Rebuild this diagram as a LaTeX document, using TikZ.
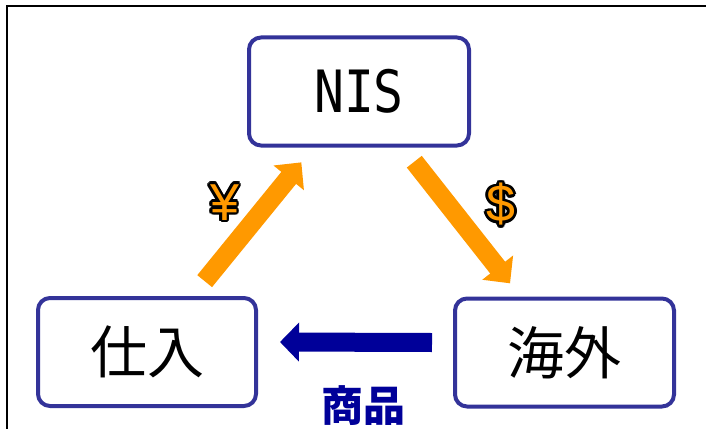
\documentclass[tikz,border=0pt]{standalone}
\usepackage{fontspec}
\usepackage[copies]{contour}
\usetikzlibrary{arrows.meta,calc}
\newfontfamily\cjk{Noto Sans CJK JP}
\newfontfamily\monofnt{DejaVu Sans Mono}
\newfontfamily\symfnt{Liberation Sans}
\definecolor{boxblue}{HTML}{333399}
\definecolor{moneyorange}{HTML}{FF9900}
\definecolor{goodsblue}{HTML}{000099}
\contourlength{2.6pt}

\begin{document}
\begin{tikzpicture}[x=1pt, y=-1pt,
    party/.style={draw=boxblue, line width=4pt, rectangle, rounded corners=12pt, minimum width=218pt, minimum height=108pt, align=center},
    money/.style={moneyorange, line width=19pt, -{Triangle[width=38pt,length=20pt]}},
    goods/.style={goodsblue, line width=19pt, -{Triangle[width=38pt,length=19pt]}},
    sign/.style={font=\symfnt\fontsize{52}{56}\selectfont}
]
    \useasboundingbox (0,0) rectangle (706,428);
    % Rama exterioara
    \draw[line width=2pt] (7,6) rectangle (730,450);

    % Parti
    \node[party, minimum width=220pt, font=\monofnt\fontsize{54}{60}\selectfont] (nis) at (359,91.5) {\scalebox{0.92}[1.08]{NIS}};
    \node[party, font=\cjk\fontsize{57}{60}\selectfont] (buy) at (147,352) {仕入};
    \node[party, minimum width=219pt, font=\cjk\fontsize{57}{60}\selectfont] (abroad) at (564.5,352.5) {海外};

    % Fluxuri de bani
    \draw[money] ($(buy)!.272!(nis)$) -- ($(buy)!.728!(nis)$);
    \draw[money] ($(nis)!.269!(abroad)$) -- ($(nis)!.735!(abroad)$);

    % Flux de marfa
    \draw[goods] ([xshift=-21pt,yshift=10pt]abroad.west) -- ([xshift=22pt,yshift=10pt]buy.east);

    % Etichete
    \node[sign] (yen) at (224.5,203.5) {\contour{black}{\color{moneyorange}¥}};
    \node[sign] (dollar) at (501,205.5) {\contour{black}{\color{moneyorange}\$}};
    \node[goodsblue, font=\cjk\bfseries\fontsize{42}{46}\selectfont] (goodslbl) at (363,406) {商品};
\end{tikzpicture}
\end{document}
